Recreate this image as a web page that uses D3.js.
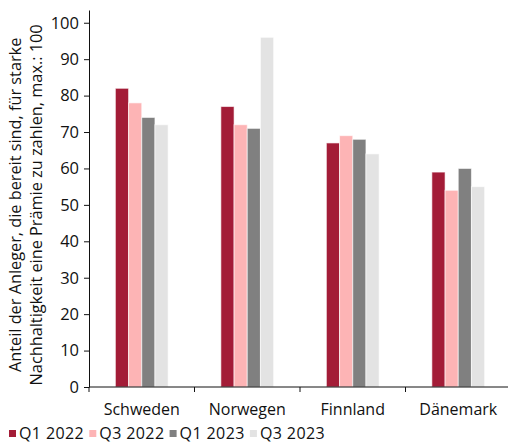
<!DOCTYPE html>
<html>
<head>
<meta charset="utf-8">
<script src="https://cdn.jsdelivr.net/npm/d3@7"></script>
<style>
  body { margin: 0; background: #fff; }
  svg { display: block; font-family: "Open Sans", sans-serif; }
</style>
</head>
<body>
<div id="chart"></div>
<script>
// data
const countries = ["Schweden", "Norwegen", "Finnland", "Dänemark"];
const series = ["Q1 2022", "Q3 2022", "Q1 2023", "Q3 2023"];
const q1_2022 = [82, 77, 67, 59];
const q3_2022 = [78, 72, 69, 54];
const q1_2023 = [74, 71, 68, 60];
const q3_2023 = [72, 96, 64, 55];
const yTicks = [0, 10, 20, 30, 40, 50, 60, 70, 80, 90, 100];
const colors = ["#a31c37", "#fdb4b5", "#808080", "#e3e3e3"];
const yTitle = ["Anteil der Anleger, die bereit sind, für starke",
                "Nachhaltigkeit eine Prämie zu zahlen, max.: 100"];

const values = [q1_2022, q3_2022, q1_2023, q3_2023];

function drawChart()
{
    // spacing
    width = 508;
    height = 445;
    margin = ({top: 10, right: -3, bottom: 58, left: 89});
    plot_bottom = height - margin.bottom;   // 387

    const svg = d3.select("#chart").append("svg")
        .attr("width", width)
        .attr("height", height)
        .attr("viewBox", [0, 0, width, height]);

    // scales
    const xScale = d3.scaleBand(countries, [margin.left, width - margin.right])
        .paddingInner(0.5).paddingOuter(0.25);
    const xSeries = d3.scaleBand(d3.range(series.length), [0, xScale.bandwidth()]);
    const yScale = d3.scaleLinear([0, 103.5], [plot_bottom, margin.top]);

    // bars
    svg.append("g")
        .selectAll("g")
        .data(values)
        .join("g")
        .attr("fill", (d, i) => colors[i])
        .selectAll("rect")
        .data((d, i) => d.map((v, j) => ({s: i, c: countries[j], v: v})))
        .join("rect")
        .attr("x", d => xScale(d.c) + xSeries(d.s))
        .attr("width", xSeries.bandwidth())
        .attr("y", d => yScale(d.v))
        .attr("height", d => yScale(0) - yScale(d.v))
        .attr("stroke", "#fff")
        .attr("stroke-opacity", 0.6)
        .attr("stroke-width", 1);

    // y axis
    svg.append("g")
        .attr("transform", `translate(${margin.left},0)`)
        .call(d3.axisLeft(yScale).tickValues(yTicks).tickSize(5).tickPadding(5).tickSizeOuter(0))
        .call(g => g.select(".domain").attr("stroke", "#111"))
        .call(g => g.selectAll(".tick line").attr("stroke", "#111"))
        .call(g => g.selectAll(".tick text")
            .attr("font-size", 16.5)
            .attr("font-family", "Open Sans, sans-serif")
            .attr("fill", "#111"));

    // x axis, ticks between the groups
    const bounds = countries.map(c => xScale(c) - xScale.step() * xScale.paddingInner() / 2)
        .concat([width - margin.right]);
    const xAxisG = svg.append("g")
        .attr("transform", `translate(0,${plot_bottom})`);
    xAxisG.append("line")
        .attr("x1", margin.left)
        .attr("x2", width)
        .attr("stroke", "#111");
    xAxisG.selectAll(".bound")
        .data(bounds)
        .join("line")
        .attr("class", "bound")
        .attr("x1", d => d)
        .attr("x2", d => d)
        .attr("y2", 5)
        .attr("stroke", "#111");
    xAxisG.selectAll("text")
        .data(countries)
        .join("text")
        .attr("x", d => xScale(d) + xScale.bandwidth() / 2)
        .attr("y", 28)
        .attr("text-anchor", "middle")
        .attr("font-size", 16)
        .attr("fill", "#111")
        .text(d => d);

    // y axis title
    const cy = (plot_bottom + yScale(100)) / 2;
    svg.append("g")
        .selectAll("text")
        .data(yTitle)
        .join("text")
        .attr("transform", (d, i) => `translate(${21 + i * 21},${cy}) rotate(-90)`)
        .attr("text-anchor", "middle")
        .attr("font-size", 16.3)
        .attr("fill", "#111")
        .text(d => d);

    // legend
    const legend = svg.append("g")
        .selectAll("g")
        .data(series)
        .join("g")
        .attr("transform", (d, i) => `translate(${9 + i * 80.3},439)`);
    legend.append("rect")
        .attr("y", -9)
        .attr("width", 7)
        .attr("height", 7)
        .attr("fill", (d, i) => colors[i]);
    legend.append("text")
        .attr("x", 10)
        .attr("font-size", 16)
        .attr("letter-spacing", 0.4)
        .attr("fill", "#111")
        .text(d => d);
}

drawChart();
</script>
</body>
</html>
